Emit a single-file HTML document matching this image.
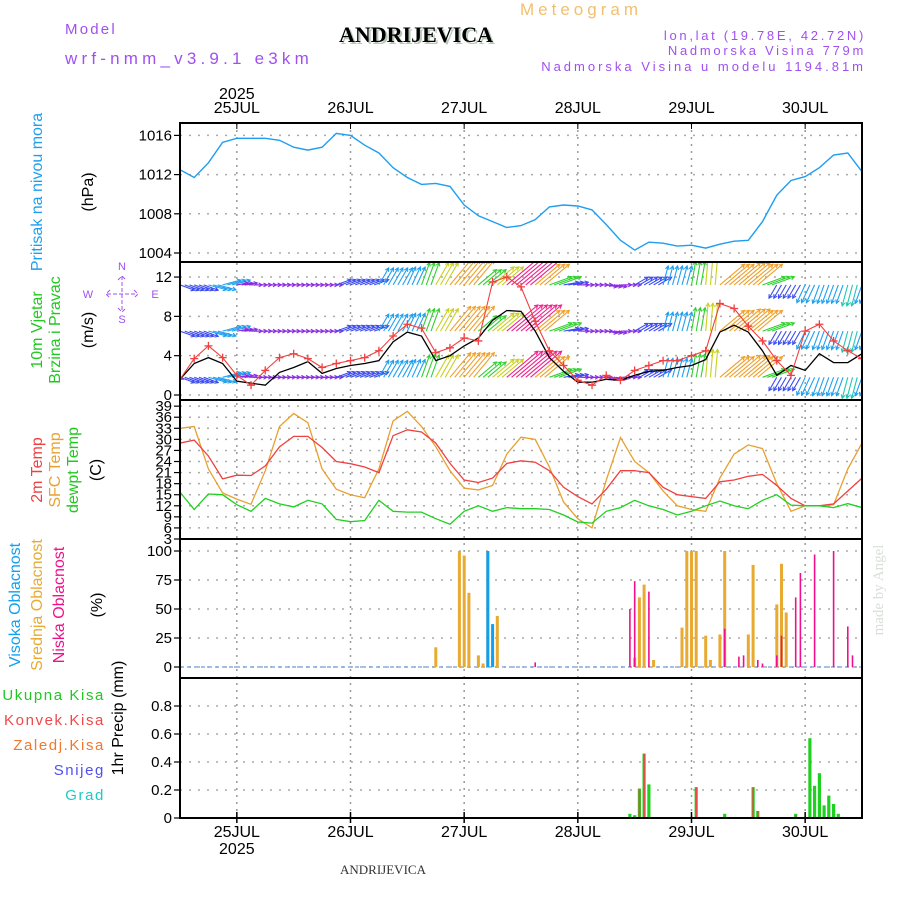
<!DOCTYPE html>
<html><head><meta charset="utf-8"><style>
html,body{margin:0;padding:0;background:#fff;}
svg{display:block;font-family:"Liberation Sans",sans-serif;}
</style></head><body>
<svg id="chart" width="900" height="900" viewBox="0 0 900 900" xmlns="http://www.w3.org/2000/svg">
<defs>
<clipPath id="c1"><rect x="180" y="123" width="682" height="139"/></clipPath>
<clipPath id="c2"><rect x="180" y="262" width="682" height="138"/></clipPath>
<clipPath id="c3"><rect x="180" y="400" width="682" height="139"/></clipPath>
</defs>
<text x="520" y="15" font-size="17" letter-spacing="4" fill="#f0c070">Meteogram</text>
<text x="65" y="34" font-size="15" letter-spacing="2.2" fill="#a050f0">Model</text>
<text x="65" y="64" font-size="17" letter-spacing="4.2" fill="#a050f0">wrf-nmm_v3.9.1 e3km</text>
<text x="418" y="44" font-size="22" font-weight="bold" font-family="Liberation Serif,serif" fill="#b8c8b8" text-anchor="middle">ANDRIJEVICA</text>
<text x="416" y="42" font-size="22" font-weight="bold" font-family="Liberation Serif,serif" fill="#000" text-anchor="middle">ANDRIJEVICA</text>
<text x="866" y="40" font-size="13" letter-spacing="2.7" fill="#a050f0" text-anchor="end">lon,lat (19.78E, 42.72N)</text>
<text x="866" y="55" font-size="13" letter-spacing="2.7" fill="#a050f0" text-anchor="end">Nadmorska Visina 779m</text>
<text x="866" y="71" font-size="13" letter-spacing="3" fill="#a050f0" text-anchor="end">Nadmorska Visina u modelu 1194.81m</text>
<text x="883" y="590" font-size="15" font-family="Liberation Serif,serif" fill="#d8e0d8" text-anchor="middle" transform="rotate(-90 883 590)">made by Angel</text>
<text x="383" y="874" font-size="13" font-family="Liberation Serif,serif" fill="#333" text-anchor="middle">ANDRIJEVICA</text>
<g id="labels" font-size="15"></g>
<g id="plot"></g>
</svg>
<script>
// ---------- data (3-hourly from 24JUL 12:00, 49 points) ----------
const dayLabels = ["25JUL","26JUL","27JUL","28JUL","29JUL","30JUL"];
const pressure = [1012.5,1011.7,1013.2,1015.3,1015.7,1015.7,1015.7,1015.5,1014.8,1014.5,1014.8,1016.2,1016.0,1015.0,1014.2,1012.7,1011.7,1011.0,1011.1,1010.8,1008.9,1007.8,1007.2,1006.6,1006.8,1007.4,1008.7,1008.9,1008.8,1008.4,1006.9,1005.3,1004.3,1005.1,1005.0,1004.7,1004.8,1004.5,1004.9,1005.2,1005.3,1007.2,1009.9,1011.4,1011.8,1012.7,1014.0,1014.2,1012.3];
const windSpeed = [1.6,3.2,3.8,3.2,1.4,1.2,1.0,2.3,2.8,3.4,2.2,2.7,3.0,3.2,3.5,5.4,6.4,6.0,3.5,4.0,5.0,5.8,7.6,8.6,8.5,6.5,3.8,2.4,1.3,1.3,1.6,1.5,2.0,2.4,2.5,2.8,3.0,3.6,6.4,7.1,6.4,4.5,2.0,3.0,2.5,4.2,3.3,3.3,4.2];
const windGust = [1.6,3.7,5.0,3.8,2.0,1.0,2.5,3.8,4.2,3.7,2.8,3.2,3.5,3.8,4.5,6.0,7.2,6.8,4.3,4.8,5.8,5.5,11.5,12.0,11.0,7.5,4.5,3.0,1.5,1.0,2.0,1.5,2.5,3.0,3.5,3.5,4.0,4.5,9.3,8.8,7.0,5.5,3.5,2.0,6.5,7.2,5.5,4.5,3.7];
const windDir = [-20,-20,-15,15,10,0,0,0,0,0,0,20,20,20,60,60,65,70,60,50,50,40,40,40,40,40,20,10,0,0,-10,0,30,30,75,75,80,85,40,40,40,20,-120,-120,-115,-110,-110,-105,-110];
const arrowSpeed = [2,2,2.8,2.8,1,1,1,1,1,1,1,2,2,2,3,3,3,4,4.5,6,6,4,5,8,8,6,4,2,1,1,1,1,2,2,3,3,4,5,6,6.5,6,4,2,2,3,3,3,3.5,3];
const t2m = [29.0,29.8,25.5,19.3,20.3,20.2,22.8,28.0,30.8,30.8,27.8,24.0,23.4,22.5,21.0,31.0,32.6,32.0,29.0,23.5,19.0,18.3,19.5,23.5,24.2,23.8,21.5,17.0,14.5,12.5,16.5,21.5,21.5,21.0,17.0,15.0,14.5,14.0,18.5,19.0,20.0,20.5,17.5,14.0,12.0,12.0,12.5,16.0,19.5];
const tsfc = [33.0,33.5,22,15.5,13.8,12.4,21.5,33.5,37.0,34.5,22,16.5,15.0,14.2,22,35,37.6,33.5,28,21.5,16.8,16.3,17.5,26,30.6,30,22.5,13,8.5,6,19,30.5,24,21,16,12,11,10.5,19.5,26,28.5,27.5,18,10.5,12,12,12.3,22,29];
const tdew = [15.7,11.0,15.2,15.0,12.3,10.5,14.0,12.5,11.7,13.5,12.5,8.3,7.7,8.0,13.5,10.5,10.3,10.3,8.5,7.0,10.5,12.0,10.5,11.5,11.2,11.2,11.0,9.5,7.6,7.3,10.5,11.5,13.5,12.0,11.0,9.5,10.5,12.0,13.3,12.0,11.2,13.5,15,12.2,12.0,12.0,11.5,12.6,11.5];
// clouds (hour since 24JUL 12:00, percent)
const highHours = [65,66];
const highVals = [100,37];
const midHours = [54,59,60,61,63,64,65,66,67,96,97,98,100,106,107,108,109,111,112,114,115,120,121,126,127,128];
const midVals = [17,100,96,64,10,3,100,10,44,8,60,71,6,34,100,100,100,27,6,28,100,28,88,54,89,47];
const lowHours = [75,95,96,99,115,118,119,122,123,126,127,130,131,134,138,141,142];
const lowVals = [4,50,74,65,33,9,10,6,3,10,27,60,81,97,100,35,10];
// precip
const precipHours = [95,96,97,98,99,109,115,121,122,130,133,134,135,136,137,138,139];
const precipTotal = [0.03,0.02,0.21,0.46,0.24,0.22,0.03,0.22,0.05,0.03,0.57,0.23,0.32,0.09,0.16,0.10,0.03];
const convHours = [97,98,109,121,122,130];
const convVals = [0.21,0.46,0.22,0.22,0.05,0.02];

// ---------- axes ----------
const X0=180, X1=862, HRS=144;
const X = h => X0 + h*(X1-X0)/HRS;
const Yp = v => 253 - (v-1004)*9.8;
const Yw = v => 395 - v*9.83;
const Yt = v => 539 - (v-3)*3.69;
const Yc = v => 667 - v*1.16;
const Yr = v => 818 - v*140;
const NS="http://www.w3.org/2000/svg";
const plot=document.getElementById('plot');
const labels=document.getElementById('labels');
function el(tag,attrs,parent){const e=document.createElementNS(NS,tag);for(const k in attrs)e.setAttribute(k,attrs[k]);(parent||plot).appendChild(e);return e;}
function txt(s,x,y,attrs,parent){const e=el('text',Object.assign({x:x,y:y},attrs||{}),parent||labels);e.textContent=s;return e;}

const panels=[[123,262],[262,400],[400,539],[539,678],[678,818]];
function hgrid(ys,name){ys.forEach(y=>{const l=el('line',{x1:X0,x2:X1,y1:y,y2:y,stroke:'#aaa','stroke-width':1.5,'stroke-dasharray':'2 7'});

});}
function yticks(vals,fy,fmt,name){vals.forEach(v=>{const y=fy(v);el('line',{x1:X0-6,x2:X0,y1:y,y2:y,stroke:'#000','stroke-width':1.2});
const t=txt(fmt(v),X0-8,y+5,{'text-anchor':'end','font-size':15,fill:'#000'});

});}
const pT=[1004,1008,1012,1016], wT=[0,4,8,12], tT=[3,6,9,12,15,18,21,24,27,30,33,36,39], cT=[0,25,50,75,100], rT=[0,0.2,0.4,0.6,0.8];
hgrid(pT.map(Yp),'pressure-grid'); hgrid(wT.map(Yw),'wind-grid'); hgrid(tT.map(Yt),'temp-grid'); hgrid(cT.map(Yc),'cloud-grid'); hgrid(rT.map(Yr),'precip-grid');
yticks(pT,Yp,v=>v,'pressure-tick'); yticks(wT,Yw,v=>v,'wind-tick'); yticks(tT,Yt,v=>v,'temp-tick'); yticks(cT,Yc,v=>v,'cloud-tick'); yticks(rT,Yr,v=>v===0?'0':v.toFixed(1),'precip-tick');
dayLabels.forEach((d,i)=>{const x=X(12+24*i);
 const g=el('line',{x1:x,x2:x,y1:123,y2:818,stroke:'#999','stroke-width':1.5,'stroke-dasharray':'2 5'});
 
 
 el('line',{x1:x,x2:x,y1:123,y2:129,stroke:'#000','stroke-width':1});
 el('line',{x1:x,x2:x,y1:812,y2:823,stroke:'#000','stroke-width':1.5});
 const a=txt(d,x,113,{'text-anchor':'middle','font-size':16});
 
 
 const b=txt(d,x,837,{'text-anchor':'middle','font-size':16});
 
 
});
const y1=txt('2025',X(12),99,{'text-anchor':'middle','font-size':16});
const y2=txt('2025',X(12),854,{'text-anchor':'middle','font-size':16});

function line(data,fy,color,name,clip,w){const d=data.map((v,i)=>(i?'L':'M')+X(i*3).toFixed(1)+' '+fy(v).toFixed(1)).join('');
 const p=el('path',{d:d,fill:'none',stroke:color,'stroke-width':w||1.3,'clip-path':'url(#'+clip+')'});
 
 return p;}
line(pressure,Yp,'#1e9ef0','pressure-line','c1',1.4);

function spdColor(s){return s<1.5?'#8a2be2':s<2.5?'#3c4cf0':s<3.2?'#1ea0f0':s<3.8?'#20c8b0':s<4.5?'#30d030':s<5.5?'#c8d020':s<7?'#f0a028':'#f0208c';}
const rows=[11.2,6.5,1.8];
const ag=el('g',{'clip-path':'url(#c2)'});


rows.forEach(r=>{windDir.forEach((dir,k)=>{const s=arrowSpeed[k];const col=spdColor(s);const L=7+s*4.2;const a=dir*Math.PI/180;
 for(let j=0;j<3;j++){const x=X(k*3+j),y=Yw(r);const x2=x+L*Math.cos(a),y2=y-L*Math.sin(a);
  el('line',{x1:x,y1:y,x2:x2,y2:y2,stroke:col,'stroke-width':1.1},ag);
  const h1=a+Math.PI-0.5,h2=a+Math.PI+0.5;
  el('path',{d:`M${(x2+4*Math.cos(h1)).toFixed(1)} ${(y2-4*Math.sin(h1)).toFixed(1)}L${x2.toFixed(1)} ${y2.toFixed(1)}L${(x2+4*Math.cos(h2)).toFixed(1)} ${(y2-4*Math.sin(h2)).toFixed(1)}`,fill:'none',stroke:col,'stroke-width':1.1},ag);}
});});
line(windSpeed,Yw,'#000','wind-speed-line','c2',1.3);
line(windGust,Yw,'#f04040','wind-gust-line','c2',1.1);
windGust.forEach((v,i)=>{const x=X(i*3),y=Yw(v);const m=el('path',{d:`M${x-4} ${y}H${x+4}M${x} ${y-4}V${y+4}`,stroke:'#f04040','stroke-width':1.3,'clip-path':'url(#c2)'});
 
 });

line(tsfc,Yt,'#e8a030','sfc-temp-line','c3',1.3);
line(t2m,Yt,'#f04040','t2m-line','c3',1.3);
line(tdew,Yt,'#20d020','dewpoint-line','c3',1.3);

function bars(hours,vals,fy,color,w,name,base){hours.forEach((h,i)=>{const x=X(h),y=fy(vals[i]);const b=el('rect',{x:(x-w/2).toFixed(1),y:y.toFixed(1),width:w,height:(base-y).toFixed(1),fill:color});
 
 });}
el('line',{x1:X0,x2:X1,y1:667,y2:667,stroke:'#6a9ee0','stroke-width':1.2,'stroke-dasharray':'4 3'});
bars(midHours,midVals,Yc,'#e8aa30',3,'mid-cloud-bar',667);
bars(highHours,highVals,Yc,'#10a0f0',3,'high-cloud-bar',667);
bars(lowHours,lowVals,Yc,'#f0108c',1.6,'low-cloud-bar',667);
bars(precipHours,precipTotal,Yr,'#20d020',3.2,'precip-total-bar',818);
bars(convHours,convVals,Yr,'#f04848',1.6,'precip-conv-bar',818);

panels.forEach(p=>{const r=el('rect',{x:X0,y:p[0],width:X1-X0,height:p[1]-p[0],fill:'none',stroke:'#000','stroke-width':2});
 
 });

function vlabel(s,x,y,color,name,fs){const t=txt(s,x,y,{'text-anchor':'middle','font-size':fs||15,fill:color,transform:`rotate(-90 ${x} ${y})`});
 
 }
vlabel('Pritisak na nivou mora',42,192,'#1e9ef0','pressure-title',16);
vlabel('(hPa)',93,192,'#000','pressure-unit',16);
vlabel('10m Vjetar',42,330,'#20c820','wind-title',16);
vlabel('Brzina i Pravac',60,330,'#20c820','wind-title-2',16);
vlabel('(m/s)',93,330,'#000','wind-unit',16);
vlabel('2m Temp',42,470,'#f04040','t2m-title',16);
vlabel('SFC Temp',60,470,'#e8a030','sfc-title',16);
vlabel('dewpt Temp',78,470,'#20c820','dewpt-title',16);
vlabel('(C)',101,470,'#000','temp-unit',16);
vlabel('Visoka Oblacnost',20,605,'#10a0f0','high-cloud-title',16);
vlabel('Srednja Oblacnost',42,605,'#e8aa30','mid-cloud-title',16);
vlabel('Niska Oblacnost',64,605,'#f0108c','low-cloud-title',16);
vlabel('(%)',102,605,'#000','cloud-unit',16);
vlabel('1hr Precip (mm)',123,718,'#000','precip-unit',16);
[['Ukupna Kisa','#20c820',700],['Konvek.Kisa','#f04848',725],['Zaledj.Kisa','#f07830',750],['Snijeg','#5050f0',775],['Grad','#20c8c8',800]].forEach(a=>{
 const t=txt(a[0],105,a[2],{'text-anchor':'end','font-size':15,'letter-spacing':1.6,fill:a[1]});
 
 });
const cp={fill:'#a050f0','font-size':11,'text-anchor':'middle'};
txt('N',122,270,cp);txt('S',122,323,cp);txt('W',88,298,cp);txt('E',155,298,cp);
const cmp=el('path',{d:'M107 294H137M122 276V312M110 290L106 294L110 298M134 290L138 294L134 298M118 280L122 276L126 280M118 308L122 312L126 308',stroke:'#a050f0','stroke-width':1,'stroke-dasharray':'4 2',fill:'none'},labels);


</script>
</body></html>
